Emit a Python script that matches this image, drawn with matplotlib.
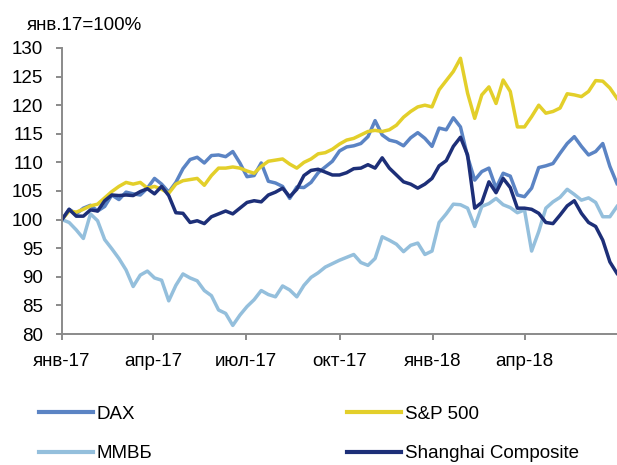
import matplotlib
matplotlib.use("Agg")
import matplotlib.pyplot as plt
import matplotlib.dates as mdates
from matplotlib.lines import Line2D
import numpy as np
import pandas as pd

plt.rcParams["font.family"] = ["Liberation Sans", "DejaVu Sans"]

# weekly observations, Jan 2017 = 100
dates = pd.date_range("2017-01-01", periods=79, freq="7D")

dax = [100, 101.8, 101, 102, 102.5, 101.5, 102.3, 104.3, 103.5, 104.8,
       104.5, 104.3, 105.5, 107.2, 106.2, 104.8, 106.5, 108.9, 110.5, 110.9,
       109.9, 111.2, 111.3, 111, 111.9, 109.9, 107.5, 107.7, 109.9, 106.7,
       106.4, 105.8, 103.7, 105.7, 105.6, 106.5, 108.2, 109.2, 110.2, 112,
       112.7, 112.9, 113.3, 114.5, 117.3, 114.8, 113.9, 113.6, 112.9, 114.3,
       115.2, 114.2, 112.8, 116, 115.7, 117.8, 116.2, 111, 106.9, 108.4,
       109, 105.5, 108.1, 107.6, 104.3, 104, 105.5, 109.1, 109.4, 109.8,
       111.6, 113.3, 114.5, 112.8, 111.3, 111.9, 113.3, 109.3, 106.3]

sp500 = [100, 101.5, 101.3, 101.8, 102.4, 102.7, 103.8, 104.9, 105.8, 106.5,
         106.2, 106.5, 105.5, 105.8, 105.3, 104.6, 106.2, 106.8, 107, 107.2,
         106, 107.7, 109, 109, 109.2, 109, 108.5, 108.1, 109.3, 110.2,
         110.4, 110.6, 109.7, 109, 110, 110.6, 111.5, 111.7, 112.3, 113.2,
         113.9, 114.2, 114.8, 115.4, 115.6, 115.4, 115.7, 116.5, 117.9, 118.9,
         119.7, 120, 119.7, 122.7, 124.3, 125.9, 128.2, 122.1, 117.7, 121.8,
         123.2, 120.3, 124.4, 122.4, 116.2, 116.2, 118, 120, 118.6, 118.9,
         119.5, 122, 121.8, 121.5, 122.4, 124.3, 124.2, 123, 121.2]

micex = [100, 99.5, 98.2, 96.7, 101, 99.8, 96.5, 94.9, 93.2, 91.2,
         88.3, 90.3, 91, 89.8, 89.4, 85.8, 88.5, 90.5, 89.8, 89.3,
         87.6, 86.7, 84.2, 83.6, 81.5, 83.3, 84.8, 86, 87.6, 86.9,
         86.5, 88.4, 87.7, 86.5, 88.5, 89.9, 90.7, 91.7, 92.3, 92.9,
         93.4, 93.9, 92.5, 92, 93.2, 97, 96.4, 95.7, 94.4, 95.5,
         95.9, 93.9, 94.5, 99.5, 101, 102.7, 102.6, 102, 98.8, 102.3,
         102.8, 103.7, 102.6, 102.1, 101.2, 101.7, 94.5, 97.9, 102, 103.1,
         103.9, 105.3, 104.4, 103.4, 103.8, 103, 100.5, 100.5, 102.3]

shanghai = [100, 101.8, 100.6, 100.6, 101.7, 101.5, 103.3, 104.3, 104.2, 104.3,
            104.2, 104.9, 105.4, 104.5, 105.8, 104.2, 101.2, 101.1, 99.5, 99.8,
            99.3, 100.5, 101, 101.5, 101, 102, 103, 103.3, 103.1, 104.3,
            104.8, 105.5, 104, 105.3, 107.7, 108.6, 108.8, 108.3, 107.8, 107.8,
            108.2, 108.9, 109, 109.6, 109, 110.8, 109, 107.8, 106.6, 106.2,
            105.5, 106.2, 107.2, 109.4, 110.3, 112.8, 114.4, 111.3, 102, 103,
            106.6, 104.7, 107.2, 105.6, 102, 102, 101.8, 101.1, 99.5, 99.3,
            100.8, 102.4, 103.3, 101.1, 99.5, 98.8, 96.4, 92.6, 90.6]

tick_dates = ["2017-01-01", "2017-04-01", "2017-07-01", "2017-10-01",
              "2018-01-01", "2018-04-01"]
tick_labels = ["янв-17", "апр-17", "июл-17", "окт-17", "янв-18", "апр-18"]

c_dax = "#5b84c4"
c_sp = "#e3cf2a"
c_micex = "#94bfdc"
c_sh = "#1d2f78"
grey = "#8a8a8a"
fs = 13.5

fig = plt.figure(figsize=(6.17, 4.65), dpi=100)
ax = fig.add_axes([0.1005, 0.2817, 0.8995, 0.6151])

lw = 2.5
ax.plot(dates, dax, color=c_dax, lw=lw)
ax.plot(dates, sp500, color=c_sp, lw=lw)
ax.plot(dates, micex, color=c_micex, lw=lw)
ax.plot(dates, shanghai, color=c_sh, lw=lw)

ax.set_xlim(pd.Timestamp("2017-01-01"), pd.Timestamp("2018-07-01"))
ax.set_ylim(80, 130)
ax.set_yticks(np.arange(80, 131, 5))
ax.set_xticks([mdates.date2num(pd.Timestamp(d)) for d in tick_dates])
ax.set_xticklabels(tick_labels)

for s in ["top", "right"]:
    ax.spines[s].set_visible(False)
for s in ["left", "bottom"]:
    ax.spines[s].set_color(grey)
    ax.spines[s].set_linewidth(1.4)
ax.tick_params(axis="both", colors=grey, width=1.4, length=4.5,
               labelcolor="black", labelsize=fs)
ax.tick_params(axis="y", pad=9)
ax.tick_params(axis="x", pad=9)

fig.text(0.043, 0.946, "янв.17=100%", fontsize=fs, va="center", ha="left")

h = lambda c: Line2D([], [], color=c, lw=3)
leg_kw = dict(frameon=False, fontsize=fs, handlelength=2.9, handletextpad=0.2,
              labelspacing=1.2, borderpad=0, borderaxespad=0, loc="upper left")
leg1 = fig.legend([h(c_dax), h(c_micex)], ["DAX", "ММВБ"],
                  bbox_to_anchor=(0.063, 0.128), **leg_kw)
leg2 = fig.legend([h(c_sp), h(c_sh)], ["S&P 500", "Shanghai Composite"],
                  bbox_to_anchor=(0.562, 0.128), **leg_kw)

fig.savefig("out.png", dpi=100)
